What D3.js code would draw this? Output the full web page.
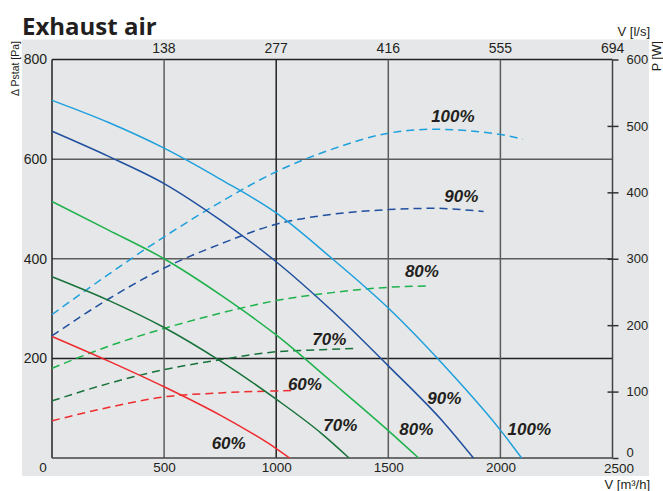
<!DOCTYPE html>
<html>
<head>
<meta charset="utf-8">
<script src="https://cdn.jsdelivr.net/npm/d3@7"></script>
<style>
  html, body { margin: 0; padding: 0; background: #ffffff; }
  svg { display: block; }
</style>
</head>
<body>
<svg id="chart" width="663" height="491"></svg>
<script>
// ---------------- DATA ----------------
const title = "Exhaust air";
const xTickValues = [0, 500, 1000, 1500, 2000, 2500];          // V [m³/h]
const yTickValues = [200, 400, 600, 800];                       // Δ Pstat [Pa]
const pTickValues = [0, 100, 200, 300, 400, 500, 600];          // P [W]
const topTickValues = [138, 277, 416, 555, 694];                // V [l/s]

const seriesNames = ["100%", "90%", "80%", "70%", "60%"];

// pressure curves (solid), flow in m³/h, pressure in Pa
const pressFlow100 = [0, 250, 500, 750, 1000, 1250, 1500, 1750, 2000, 2095];
const pressVal100  = [718, 674, 622, 560, 492, 400, 301, 185, 56, 0];
const pressFlow90  = [0, 250, 500, 750, 1000, 1250, 1500, 1750, 1880];
const pressVal90   = [656, 606, 551, 478, 394, 295, 185, 70, 0];
const pressFlow80  = [0, 250, 500, 750, 1000, 1250, 1500, 1635];
const pressVal80   = [515, 458, 400, 328, 247, 152, 55, 0];
const pressFlow70  = [0, 250, 500, 750, 1000, 1200, 1325];
const pressVal70   = [364, 317, 262, 195, 118, 50, 0];
const pressFlow60  = [0, 250, 500, 750, 1000, 1060];
const pressVal60   = [244, 195, 143, 86, 19, 0];

// power curves (dashed), flow in m³/h, power in W
const powFlow100 = [0, 250, 500, 750, 1000, 1250, 1500, 1700, 2000, 2100];
const powVal100  = [216, 276, 333, 385, 431, 465, 489, 495, 487, 480];
const powFlow90  = [0, 250, 500, 750, 1000, 1250, 1500, 1700, 1925];
const powVal90   = [184, 239, 286, 322, 352, 367, 374, 376, 371];
const powFlow80  = [0, 250, 500, 750, 1000, 1250, 1500, 1675];
const powVal80   = [135, 168, 195, 218, 237, 249, 257, 259];
const powFlow70  = [0, 250, 500, 750, 1000, 1200, 1365];
const powVal70   = [86, 112, 133, 148, 160, 163, 165];
const powFlow60  = [0, 250, 500, 750, 1000, 1075];
const powVal60   = [56, 76, 92, 98, 101, 101.5];

// label anchors (in data units)
const powLabelFlow = [1788, 1826, 1650, 1237, 1128];
const powLabelVal  = [514, 393, 281, 178, 111];
const pressLabelFlow = [2129, 1750, 1625, 1286, 788];
const pressLabelVal  = [58, 119, 58, 66, 30];

const colors = ["#1ea0dd", "#1f4f9f", "#1db24b", "#17723b", "#ee2b2f"];

// ---------------- LAYOUT ----------------
const svg = d3.select("#chart");
const L = 52, R = 612.5, T = 59.5, B = 458;

const x = d3.scaleLinear().domain([0, 2500]).range([L, R]);
const y = d3.scaleLinear().domain([0, 800]).range([B, T]);
const yW = d3.scaleLinear().domain([0, 600]).range([B, T]);
const xTop = d3.scaleLinear().domain([0, 2500 / 3.6]).range([L, R]);

const tickFont = "'Liberation Sans', Arial, sans-serif";

// background panel
svg.append("rect").attr("x", 22).attr("y", 39.5).attr("width", 627).attr("height", 436.5)
  .attr("fill", "#e6e7e8");

// title
svg.append("text").attr("x", 22).attr("y", 35)
  .attr("font-family", "'Open Sans', 'Noto Sans', sans-serif")
  .attr("font-weight", 700).attr("font-size", 24).attr("fill", "#231f20")
  .text(title);

// gridlines
const grid = svg.append("g");
grid.selectAll("line.h").data(yTickValues).join("line")
  .attr("x1", L).attr("x2", R)
  .attr("y1", d => y(d)).attr("y2", d => y(d))
  .attr("stroke", d => (d === 200 || d === 800) ? "#222" : "#5c5c5c")
  .attr("stroke-width", 1.5);
grid.selectAll("line.v").data(xTickValues.filter(d => d > 0 && d < 2500)).join("line")
  .attr("y1", T).attr("y2", B)
  .attr("x1", d => x(d)).attr("x2", d => x(d))
  .attr("stroke", d => d === 1000 ? "#222" : "#5c5c5c")
  .attr("stroke-width", 1.5);

// frame: left and bottom
svg.append("line").attr("x1", L).attr("x2", L).attr("y1", T).attr("y2", B)
  .attr("stroke", "#222").attr("stroke-width", 1.5);
svg.append("line").attr("x1", L).attr("x2", R).attr("y1", B).attr("y2", B)
  .attr("stroke", "#444").attr("stroke-width", 1.5);

// left axis
const gl = svg.append("g").attr("transform", `translate(${L},0)`)
  .call(d3.axisLeft(y).tickValues(yTickValues).tickSize(0).tickPadding(5));
gl.select(".domain").remove();
gl.selectAll("text").attr("font-family", tickFont).attr("font-size", 14).attr("fill", "#231f20");

// bottom axis
const gb = svg.append("g").attr("transform", `translate(0,${B})`)
  .call(d3.axisBottom(x).tickValues(xTickValues).tickFormat(d3.format("d")).tickSize(0).tickPadding(4));
gb.select(".domain").remove();
gb.selectAll("text").attr("font-family", tickFont).attr("font-size", 13.5).attr("fill", "#231f20")
  .attr("dx", d => d === 0 ? -9.5 : (d === 2500 ? 6 : 0))
  .attr("dy", d => d === 2500 ? "0.85em" : "0.71em");

// top axis
const gt = svg.append("g").attr("transform", `translate(0,${T})`)
  .call(d3.axisTop(xTop).tickValues(topTickValues).tickFormat(d3.format("d")).tickSize(0).tickPadding(7));
gt.select(".domain").remove();
gt.selectAll("text").attr("font-family", tickFont).attr("font-size", 14).attr("fill", "#231f20");

// right axis
const gr = svg.append("g").attr("transform", `translate(${R},0)`)
  .call(d3.axisRight(yW).tickValues(pTickValues).tickSize(6).tickPadding(8));
gr.select(".domain").attr("stroke", "#444").attr("stroke-width", 1.5).attr("d", `M0,${T}V${B}`);
gr.selectAll(".tick line").attr("x1", d => (d === 0 || d === 600) ? 0 : -5).attr("x2", 6)
  .attr("stroke", "#333").attr("stroke-width", 1.5);
gr.selectAll("text").attr("font-family", tickFont).attr("font-size", 13).attr("fill", "#231f20")
  .attr("dy", d => d === 0 ? "-0.15em" : "0.32em");

// axis titles
svg.append("text").attr("transform", "translate(18.5,41) rotate(-90)")
  .attr("text-anchor", "end").attr("font-family", tickFont).attr("font-size", 10.5)
  .attr("fill", "#231f20").text("Δ Pstat [Pa]");
svg.append("text").attr("transform", "translate(660.5,41) rotate(-90)")
  .attr("text-anchor", "end").attr("font-family", tickFont).attr("font-size", 12.5)
  .attr("fill", "#231f20").text("P [W]");
svg.append("text").attr("x", 650).attr("y", 36).attr("text-anchor", "end")
  .attr("font-family", tickFont).attr("font-size", 13).attr("fill", "#231f20").text("V [l/s]");
svg.append("text").attr("x", 650).attr("y", 489).attr("text-anchor", "end")
  .attr("font-family", tickFont).attr("font-size", 13).attr("fill", "#231f20").text("V [m³/h]");

// curves
const pressSeries = [
  [pressFlow100, pressVal100], [pressFlow90, pressVal90], [pressFlow80, pressVal80],
  [pressFlow70, pressVal70], [pressFlow60, pressVal60]
];
const powSeries = [
  [powFlow100, powVal100], [powFlow90, powVal90], [powFlow80, powVal80],
  [powFlow70, powVal70], [powFlow60, powVal60]
];

const linePress = d3.line().x(d => x(d[0])).y(d => y(d[1])).curve(d3.curveMonotoneX);
const linePow = d3.line().x(d => x(d[0])).y(d => yW(d[1])).curve(d3.curveMonotoneX);

const curves = svg.append("g").attr("fill", "none").attr("stroke-width", 1.5);
powSeries.forEach((s, i) => {
  const pts = s[0].map((q, k) => [q, s[1][k]]);
  curves.append("path").attr("d", linePow(pts)).attr("stroke", colors[i])
    .attr("stroke-dasharray", "8,5");
});
pressSeries.forEach((s, i) => {
  const pts = s[0].map((q, k) => [q, s[1][k]]);
  curves.append("path").attr("d", linePress(pts)).attr("stroke", colors[i]);
});

// labels
const labelFont = "'Liberation Sans', Arial, sans-serif";
seriesNames.forEach((name, i) => {
  svg.append("text").attr("x", x(powLabelFlow[i])).attr("y", yW(powLabelVal[i]))
    .attr("text-anchor", "middle").attr("dominant-baseline", "central")
    .attr("font-family", labelFont).attr("font-weight", 700).attr("font-style", "italic")
    .attr("font-size", 17).attr("fill", "#231f20").text(name);
  svg.append("text").attr("x", x(pressLabelFlow[i])).attr("y", y(pressLabelVal[i]))
    .attr("text-anchor", "middle").attr("dominant-baseline", "central")
    .attr("font-family", labelFont).attr("font-weight", 700).attr("font-style", "italic")
    .attr("font-size", 17).attr("fill", "#231f20").text(name);
});
</script>
</body>
</html>
